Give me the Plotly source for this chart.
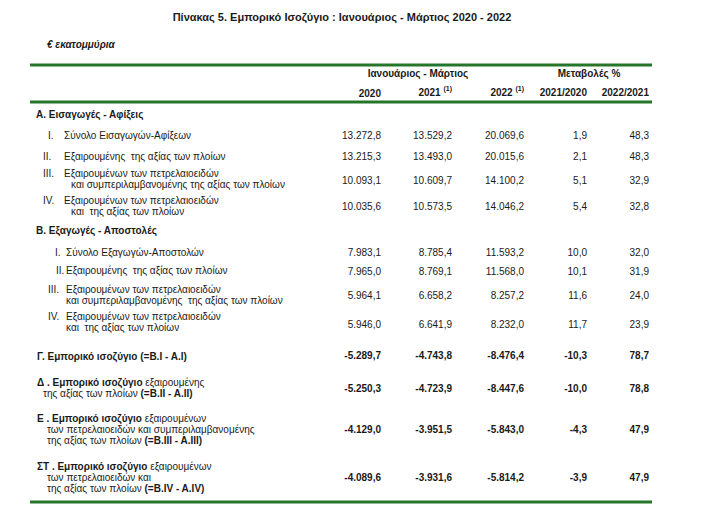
import plotly.graph_objects as go

# ---- data ----
title = "Πίνακας 5. Εμπορικό Ισοζύγιο : Ιανουάριος - Μάρτιος 2020 - 2022"
unit = "€ εκατομμύρια"
group_headers = ["Ιανουάριος - Μάρτιος", "Μεταβολές %"]
col_headers = ["2020", "2021 <sup>(1)</sup>", "2022 <sup>(1)</sup>", "2021/2020", "2022/2021"]

sections = ["Α. Εισαγωγές - Αφίξεις", "Β. Εξαγωγές - Αποστολές"]
numerals = ["I.", "II.", "III.", "IV.", "I.", "II.", "III.", "IV."]
row_lines = [
    ["Σύνολο Εισαγωγών-Αφίξεων"],
    ["Εξαιρουμένης\u00a0 της αξίας των πλοίων"],
    ["Εξαιρουμένων των πετρελαιοειδών", "και συμπεριλαμβανομένης της αξίας των πλοίων"],
    ["Εξαιρουμένων των πετρελαιοειδών", "και\u00a0 της αξίας των πλοίων"],
    ["Σύνολο Εξαγωγών-Αποστολών"],
    ["Εξαιρουμένης\u00a0 της αξίας των πλοίων"],
    ["Εξαιρουμένων των πετρελαιοειδών", "και συμπεριλαμβανομένης\u00a0 της αξίας των πλοίων"],
    ["Εξαιρουμένων των πετρελαιοειδών", "και\u00a0 της αξίας των πλοίων"],
    ["<b>Γ. Εμπορικό ισοζύγιο (=B.I - A.I)</b>"],
    ["<b>Δ . Εμπορικό ισοζύγιο</b> εξαιρουμένης", "της αξίας των πλοίων <b>(=B.II - A.II)</b>"],
    ["<b>Ε . Εμπορικό ισοζύγιο</b> εξαιρουμένων", "των πετρελαιοειδών και συμπεριλαμβανομένης",
     "της αξίας των πλοίων <b>(=B.III - A.III)</b>"],
    ["<b>ΣΤ . Εμπορικό ισοζύγιο</b> εξαιρουμένων", "των πετρελαιοειδών και",
     "της αξίας των πλοίων <b>(=B.IV - A.IV)</b>"],
]

val_2020 = [13272.8, 13215.3, 10093.1, 10035.6, 7983.1, 7965.0, 5964.1, 5946.0,
            -5289.7, -5250.3, -4129.0, -4089.6]
val_2021 = [13529.2, 13493.0, 10609.7, 10573.5, 8785.4, 8769.1, 6658.2, 6641.9,
            -4743.8, -4723.9, -3951.5, -3931.6]
val_2022 = [20069.6, 20015.6, 14100.2, 14046.2, 11593.2, 11568.0, 8257.2, 8232.0,
            -8476.4, -8447.6, -5843.0, -5814.2]
chg_21_20 = [1.9, 2.1, 5.1, 5.4, 10.0, 10.1, 11.6, 11.7, -10.3, -10.0, -4.3, -3.9]
chg_22_21 = [48.3, 48.3, 32.9, 32.8, 32.0, 31.9, 24.0, 23.9, 78.7, 78.8, 47.9, 47.9]
bold_rows = [False] * 8 + [True] * 4

# ---- layout (pixel grid of the page, y downwards) ----
W, H = 722, 519
PAGE_OFF = 8  # default body margin of the html page
GREEN = "rgb(38,118,42)"
INK = "#1a1a1a"
FONT = "Liberation Sans, Arial, sans-serif"

col_right = [381, 452, 524, 587, 649]
group_center = [418, 589]
row_y = [136, 157, 181, 207, 253, 272, 296, 325, 356, 389, 430, 478]
line0_y = [136, 157, 174, 201, 253, 271, 290, 317, 357, 383, 419, 467]
line_gap = [11.5] * 8 + [11.0] * 4
numeral_x = [48, 43, 43, 43, 55, 56, 48, 48]
text_x = [64] * 4 + [66] * 4 + [37] * 4
cont_x = [71] * 4 + [66] * 4 + [43, 43, 47, 47]
section_y = [115, 231]
rule_y = [65, 102, 502]


def gr(v):
    # greek number format: 13.272,8
    s = f"{v:,.1f}"
    return s.replace(",", "X").replace(".", ",").replace("X", ".")


fig = go.Figure()


def add_text(xs, ys, texts, pos, size=10, color=INK):
    fig.add_trace(go.Scatter(
        x=xs, y=ys, text=texts, mode="text", textposition=pos,
        textfont=dict(family=FONT, size=size, color=color),
        hoverinfo="skip", showlegend=False))


# numbers
for j, col in enumerate([val_2020, val_2021, val_2022, chg_21_20, chg_22_21]):
    texts = [f"<b>{gr(v)}</b>" if b else gr(v) for v, b in zip(col, bold_rows)]
    add_text([col_right[j]] * len(col), row_y, texts, "middle left")

# headers
add_text(group_center, [74, 74], [f"<b>{t}</b>" for t in group_headers], "middle center")
add_text(col_right, [94, 93, 93, 93, 93], [f"<b>{t}</b>" for t in col_headers], "middle left")

# section titles
add_text([36, 36], section_y, [f"<b>{t}</b>" for t in sections], "middle right")

# roman numerals
add_text(numeral_x, line0_y[:8], numerals, "middle right")

# row labels, one point per line
lx, ly, lt = [], [], []
for i, lines in enumerate(row_lines):
    for k, line in enumerate(lines):
        lx.append(text_x[i] if k == 0 else cont_x[i])
        ly.append(line0_y[i] + k * line_gap[i])
        lt.append(line)
add_text(lx, ly, lt, "middle right")

# title and unit
add_text([342], [18], [f"<b>{title}</b>"], "middle center", size=11)
add_text([47], [45], [f"<b><i>{unit}</i></b>"], "middle right")

for y in rule_y:
    fig.add_shape(type="line", x0=30, x1=652, y0=y, y1=y,
                  line=dict(color=GREEN, width=3))

fig.update_layout(
    width=W, height=H,
    margin=dict(l=0, r=0, t=0, b=0),
    paper_bgcolor="white", plot_bgcolor="white",
    xaxis=dict(range=[PAGE_OFF, W + PAGE_OFF], visible=False, fixedrange=True),
    yaxis=dict(range=[H + PAGE_OFF, PAGE_OFF], visible=False, fixedrange=True),
)

fig.write_html("out.html")
